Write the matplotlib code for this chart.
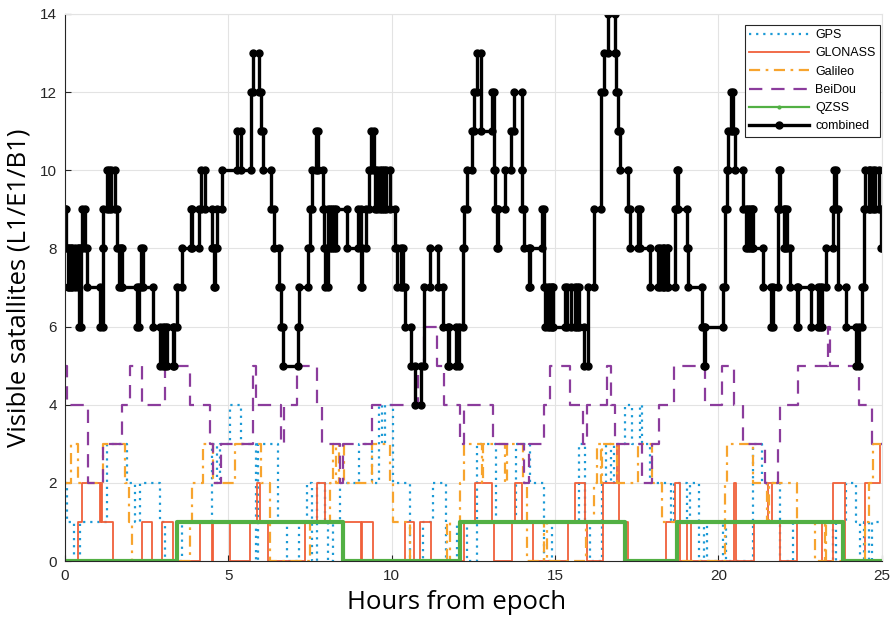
import numpy as np
import matplotlib
matplotlib.use("Agg")
import matplotlib.pyplot as plt

# change points: hour from epoch, number of visible satellites from that hour on
comb_t = [0.00, 0.03, 0.08, 0.13, 0.18, 0.23, 0.30, 0.40, 0.44, 0.48,
          0.52, 0.62, 0.66, 1.07, 1.15, 1.17, 1.28, 1.36, 1.41, 1.53,
          1.58, 1.66, 1.72, 1.76, 2.22, 2.27, 2.33, 2.38, 2.68, 2.90,
          3.00, 3.07, 3.12, 3.30, 3.35, 3.42, 3.57, 3.85, 3.90, 4.10,
          4.15, 4.30, 4.50, 4.55, 4.60, 4.65, 4.82, 5.26, 5.40, 5.70,
          5.75, 5.95, 6.00, 6.05, 6.30, 6.40, 6.55, 6.60, 6.68, 7.12,
          7.15, 7.43, 7.50, 7.55, 7.68, 7.74, 7.90, 7.93, 7.96, 8.05,
          8.12, 8.16, 8.25, 8.30, 8.62, 8.98, 9.06, 9.10, 9.20, 9.32,
          9.38, 9.45, 9.50, 9.55, 9.65, 9.70, 9.78, 9.82, 9.95, 10.10,
          10.15, 10.30, 10.35, 10.42, 10.60, 10.70, 10.90, 11.00, 11.18, 11.42,
          11.58, 11.72, 11.76, 11.98, 12.06, 12.17, 12.20, 12.30, 12.47, 12.53,
          12.60, 12.75, 13.08, 13.12, 13.15, 13.22, 13.26, 13.47, 13.66, 13.75,
          13.98, 14.00, 14.05, 14.20, 14.24, 14.60, 14.65, 14.70, 14.80, 14.84,
          14.90, 14.93, 15.30, 15.36, 15.50, 15.60, 15.66, 15.72, 15.90, 16.00,
          16.20, 16.40, 16.50, 16.62, 16.83, 16.86, 16.93, 17.00, 17.25, 17.30,
          17.55, 17.60, 17.90, 18.15, 18.20, 18.30, 18.35, 18.42, 18.47, 18.68,
          18.74, 18.78, 19.05, 19.08, 19.50, 19.55, 19.60, 20.15, 20.20, 20.27,
          20.30, 20.38, 20.45, 20.50, 20.77, 20.85, 20.92, 20.97, 21.02, 21.07,
          21.38, 21.60, 21.66, 21.82, 21.85, 21.90, 22.00, 22.05, 22.10, 22.20,
          22.40, 22.45, 22.85, 23.05, 23.12, 23.18, 23.30, 23.50, 23.55, 23.60,
          23.65, 23.90, 24.20, 24.30, 24.40, 24.45, 24.50, 24.60, 24.65, 24.75,
          24.80, 24.92, 24.97]
comb_v = [9, 8, 7, 8, 7, 8, 7, 8, 6, 8,
          9, 8, 7, 6, 8, 9, 10, 9, 10, 9,
          8, 7, 8, 7, 6, 7, 8, 7, 6, 5,
          6, 5, 6, 5, 6, 7, 8, 9, 8, 9,
          10, 9, 8, 7, 8, 9, 10, 11, 10, 12,
          13, 12, 11, 10, 9, 8, 7, 6, 5, 6,
          7, 8, 9, 10, 11, 10, 9, 8, 7, 9,
          8, 9, 8, 9, 8, 9, 7, 8, 9, 10,
          11, 10, 9, 10, 9, 10, 9, 10, 9, 8,
          7, 8, 7, 6, 5, 4, 5, 7, 8, 7,
          6, 5, 6, 5, 6, 8, 9, 10, 11, 12,
          13, 11, 12, 10, 9, 8, 9, 10, 11, 12,
          10, 9, 8, 7, 8, 9, 7, 6, 7, 6,
          7, 6, 7, 6, 7, 6, 7, 6, 5, 7,
          9, 12, 13, 14, 13, 12, 11, 10, 9, 8,
          9, 8, 7, 8, 7, 8, 7, 8, 7, 9,
          10, 9, 8, 7, 6, 5, 6, 7, 9, 10,
          11, 12, 11, 10, 9, 8, 9, 8, 9, 8,
          7, 6, 7, 9, 10, 9, 8, 9, 8, 7,
          6, 7, 6, 7, 6, 7, 8, 9, 10, 9,
          7, 6, 5, 6, 7, 9, 10, 9, 10, 9,
          10, 9, 8]

gps_t = [0.00, 0.05, 0.28, 0.45, 1.28, 1.90, 2.15, 2.30, 2.90, 3.05,
         3.58, 4.50, 4.65, 4.75, 5.05, 5.40, 5.85, 5.90, 6.53, 6.80,
         7.15, 7.40, 7.55, 7.70, 7.95, 8.05, 8.20, 8.42, 9.00, 9.40,
         9.60, 9.70, 9.80, 10.05, 10.57, 10.95, 11.28, 11.65, 12.00, 12.30,
         12.60, 13.20, 13.80, 14.25, 14.65, 14.90, 15.75, 15.92, 16.08, 16.45,
         16.55, 16.70, 16.80, 17.15, 17.35, 17.60, 17.65, 17.90, 18.55, 18.65,
         19.05, 19.12, 19.42, 19.55, 19.65, 20.15, 20.25, 21.05, 21.35, 21.90,
         22.30, 23.50, 23.60, 23.90, 24.20, 24.35, 24.45, 24.62, 24.70]
gps_v = [2, 1, 0, 1, 3, 2, 1, 2, 1, 0,
         1, 3, 2, 3, 4, 3, 0, 3, 1, 0,
         1, 2, 0, 2, 1, 0, 1, 2, 3, 2,
         4, 3, 4, 2, 0, 1, 2, 0, 1, 0,
         3, 1, 3, 2, 0, 1, 3, 1, 0, 2,
         3, 2, 3, 4, 3, 4, 3, 2, 1, 2,
         1, 2, 0, 1, 0, 1, 0, 3, 2, 0,
         1, 0, 1, 2, 1, 0, 1, 0, 1]

glonass_t = [0.00, 0.41, 0.51, 1.07, 1.10, 1.14, 1.48, 2.35, 2.65, 2.96,
             3.32, 4.13, 4.49, 4.54, 5.05, 5.66, 5.87, 5.97, 6.20, 7.35,
             7.70, 7.96, 9.05, 9.10, 9.44, 10.41, 10.67, 10.87, 11.20, 12.20,
             12.55, 13.07, 13.12, 13.67, 13.78, 13.98, 14.34, 15.41, 15.62, 15.92,
             15.97, 16.48, 16.90, 16.97, 17.25, 18.40, 18.68, 18.83, 19.05, 19.15,
             20.48, 20.55, 21.08, 21.53, 21.64, 21.90, 22.40, 23.17, 23.50, 23.88,
             24.50, 24.95]
glonass_v = [0, 1, 2, 1, 2, 1, 0, 1, 0, 1,
             0, 1, 0, 1, 0, 1, 2, 1, 0, 1,
             2, 1, 0, 1, 0, 1, 0, 1, 0, 1,
             2, 1, 0, 1, 2, 1, 0, 1, 2, 1,
             0, 2, 3, 1, 0, 1, 2, 0, 1, 0,
             2, 0, 1, 2, 1, 0, 1, 0, 2, 0,
             2, 3]

galileo_t = [0.00, 0.20, 0.41, 1.17, 1.85, 1.95, 2.05, 3.83, 3.88, 4.24,
             4.54, 5.20, 6.00, 6.28, 7.50, 8.10, 8.20, 8.30, 8.40, 8.55,
             9.40, 9.95, 10.05, 10.46, 10.55, 11.70, 11.78, 12.10, 12.20, 12.76,
             12.80, 13.47, 13.52, 14.03, 14.14, 14.65, 14.75, 15.95, 16.20, 16.30,
             16.40, 16.45, 16.90, 17.55, 17.97, 18.27, 18.75, 20.20, 20.26, 21.05,
             21.50, 21.55, 22.40, 22.96, 23.27, 23.30, 24.50, 24.60, 24.72]
galileo_v = [2, 3, 2, 3, 2, 1, 0, 1, 2, 3,
             2, 3, 2, 0, 1, 2, 3, 2, 3, 2,
             3, 2, 1, 1, 0, 1, 0, 2, 3, 2,
             3, 2, 3, 2, 0, 1, 0, 1, 2, 3,
             2, 3, 2, 3, 2, 1, 0, 2, 3, 2,
             1, 2, 1, 0, 1, 0, 1, 2, 3]

beidou_t = [0.00, 0.05, 0.72, 1.17, 1.74, 1.99, 2.35, 3.06, 3.83, 4.45,
            4.52, 4.78, 5.77, 5.85, 6.62, 6.70, 7.10, 7.70, 7.86, 8.42,
            8.52, 9.40, 10.80, 11.00, 11.40, 11.60, 12.10, 12.20, 13.10, 14.05,
            14.20, 14.65, 14.85, 15.46, 15.87, 15.97, 16.60, 16.70, 16.84, 17.66,
            17.97, 18.17, 18.63, 19.60, 20.10, 20.48, 20.77, 21.43, 21.84, 21.90,
            22.45, 23.37, 23.42, 24.30, 24.70]
beidou_v = [5, 4, 2, 3, 4, 5, 4, 5, 4, 3,
            2, 3, 5, 4, 3, 4, 5, 4, 3, 2,
            3, 4, 5, 6, 5, 4, 3, 4, 3, 2,
            3, 4, 5, 4, 3, 4, 5, 4, 3, 2,
            3, 4, 5, 4, 5, 4, 3, 2, 3, 4,
            5, 6, 5, 4, 3]

qzss_t = [0.00, 3.42, 8.52, 12.10, 17.13, 18.73, 23.83]
qzss_v = [0, 1, 0, 1, 0, 1, 0]

T_END = 25.0


def stairs(t, v, t_end=T_END):
    # turn change points into stair vertices (x, y)
    t = np.asarray(t, dtype=float)
    v = np.asarray(v, dtype=float)
    assert len(t) == len(v), (len(t), len(v))
    edges = np.append(t, t_end)
    xs = np.repeat(edges, 2)[1:-1]
    ys = np.repeat(v, 2)
    return xs, ys


fig = plt.figure(figsize=(8.96, 6.28), dpi=100)
ax = fig.add_axes([0.0725, 0.1065, 0.9115, 0.8715])

x, y = stairs(gps_t, gps_v)
ax.plot(x, y, color="#1b9ad6", lw=1.6, ls=(0, (1, 2.2)), label="GPS")
x, y = stairs(glonass_t, glonass_v)
ax.plot(x, y, color="#f0603a", lw=1.3, label="GLONASS")
x, y = stairs(galileo_t, galileo_v)
ax.plot(x, y, color="#f7a42e", lw=1.6, ls=(0, (5, 2.5, 1.2, 2.5)), label="Galileo")
x, y = stairs(beidou_t, beidou_v)
ax.plot(x, y, color="#8b3c9c", lw=1.6, ls=(0, (6, 4)), label="BeiDou")
x, y = stairs(qzss_t, qzss_v)
ax.plot(x, y, color="#52b044", lw=3.0, label="_nolegend_")
ax.plot([], [], color="#52b044", lw=1.6, marker=".", ms=4, label="QZSS")
x, y = stairs(comb_t, comb_v)
ax.plot(x, y, color="black", lw=2.4, marker="o", ms=5, label="combined")

ax.set_xlim(0, 25)
ax.set_ylim(0, 14)
ax.set_xticks(np.arange(0, 26, 5))
ax.set_yticks(np.arange(0, 15, 2))
ax.grid(True, color="#e3e3e3", lw=0.8)
ax.set_axisbelow(True)
ax.tick_params(direction="in", length=4, width=0.8, colors="#262626",
               labelsize=11, pad=6)
for lab in ax.get_xticklabels() + ax.get_yticklabels():
    lab.set_family("Liberation Sans")
for side in ("left", "bottom"):
    ax.spines[side].set_color("#262626")
    ax.spines[side].set_linewidth(0.8)
for side in ("top", "right"):
    ax.spines[side].set_color("#e3e3e3")
    ax.spines[side].set_linewidth(0.8)

ax.set_xlabel("Hours from epoch", family="Open Sans", fontsize=18.5)
ax.xaxis.set_label_coords(0.479, -0.052)
ax.set_ylabel("Visible satallites (L1/E1/B1)", family="Open Sans", fontsize=18.5,
              labelpad=6)

leg = ax.legend(loc="upper right", bbox_to_anchor=(0.998, 0.98), borderaxespad=0,
                fancybox=False, framealpha=1, edgecolor="#262626",
                prop={"family": "Liberation Sans", "size": 9},
                handlelength=4.8, labelspacing=0.5, borderpad=0.35,
                handletextpad=0.5)
leg.get_frame().set_linewidth(0.8)

fig.savefig("out.png", dpi=100)
